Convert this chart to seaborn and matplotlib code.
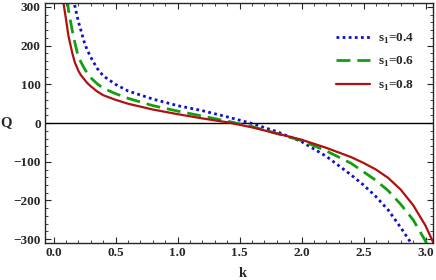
import numpy as np
import pandas as pd
import matplotlib
matplotlib.use("Agg")
import matplotlib.pyplot as plt
from matplotlib.ticker import MultipleLocator
import seaborn as sns

# values
k_red = [0.06, 0.08, 0.10, 0.12, 0.15, 0.17, 0.20, 0.22, 0.25, 0.27, 0.30, 0.35, 0.40, 0.50, 0.60,
         0.80, 1.00, 1.20, 1.40, 1.60, 1.80, 2.00, 2.20, 2.40, 2.50, 2.60, 2.70, 2.80, 2.90,
         3.00, 3.10]
q_red = [400, 310, 268, 225, 182, 158, 135, 124, 112, 104, 95, 82, 72, 60, 50,
         35, 23, 12, 2, -11, -27, -43, -64, -88, -103, -120, -142, -172, -212,
         -265, -335]

k_green = [0.08, 0.10, 0.12, 0.15, 0.17, 0.20, 0.22, 0.25, 0.27, 0.30, 0.35, 0.40, 0.50, 0.60,
           0.80, 1.00, 1.20, 1.40, 1.60, 1.80, 2.00, 2.20, 2.40, 2.50, 2.60, 2.70, 2.80,
           2.90, 3.00, 3.10]
q_green = [440, 360, 292, 240, 210, 170, 158, 140, 130, 117, 102, 90, 76, 64,
           45, 31, 18, 5, -9, -27, -45, -72, -104, -126, -148, -175, -210,
           -250, -305, -380]

k_blue = [0.10, 0.12, 0.15, 0.17, 0.20, 0.22, 0.25, 0.27, 0.30, 0.35, 0.40, 0.50, 0.60, 0.80,
          1.00, 1.20, 1.40, 1.60, 1.80, 2.00, 2.20, 2.40, 2.50, 2.60, 2.70, 2.80, 2.90, 3.00]
q_blue = [500, 420, 340, 305, 262, 240, 206, 190, 170, 142, 122, 100, 83, 62,
          45, 32, 16, -1, -22, -48, -86, -134, -160, -190, -225, -270, -318, -390]

labels = [r"s$_{\mathbf{1}}$=0.4", r"s$_{\mathbf{1}}$=0.6", r"s$_{\mathbf{1}}$=0.8"]

sns.set_style("ticks")
plt.rcParams["font.family"] = ["Liberation Serif", "DejaVu Serif"]
plt.rcParams["font.weight"] = "bold"
plt.rcParams["mathtext.fontset"] = "custom"
plt.rcParams["mathtext.bf"] = "Liberation Serif:bold"
plt.rcParams["mathtext.rm"] = "Liberation Serif:bold"

fig = plt.figure(figsize=(4.36, 2.80), dpi=100)
ax = fig.add_axes([0.103, 0.132, 0.89, 0.857])

ax.axhline(0, color="black", lw=1.0, zorder=1)

sns.lineplot(x=k_blue, y=q_blue, ax=ax, color="#1010c8", lw=2.0, label=labels[0],
             sort=False, linestyle=(0, (1, 1.2)))
sns.lineplot(x=k_green, y=q_green, ax=ax, color="#10a010", lw=2.0, label=labels[1],
             sort=False, linestyle=(0, (5, 2.5)))
sns.lineplot(x=k_red, y=q_red, ax=ax, color="#b01010", lw=1.6, label=labels[2],
             sort=False)

ax.set_xlim(-0.07, 3.06)
ax.set_ylim(-310, 310)
ax.xaxis.set_major_locator(MultipleLocator(0.5))
ax.xaxis.set_minor_locator(MultipleLocator(0.1))
ax.yaxis.set_major_locator(MultipleLocator(100))
ax.yaxis.set_minor_locator(MultipleLocator(20))
ax.xaxis.set_major_formatter(plt.FormatStrFormatter("%.1f"))
ax.tick_params(which="both", direction="in", top=True, right=True, labelsize=9.5)
ax.tick_params(which="major", length=4, width=0.8, pad=3)
ax.tick_params(which="minor", length=2, width=0.6)
for s in ax.spines.values():
    s.set_linewidth(1.0)

ax.set_xlabel("k", fontsize=10.5, fontweight="bold", va="center")
ax.xaxis.set_label_coords(0.51, -0.125)
ax.set_ylabel("Q", fontsize=10.5, fontweight="bold", rotation=0, va="center", ha="center")
ax.yaxis.set_label_coords(-0.1, 0.5)

ax.legend(loc="upper left", bbox_to_anchor=(0.72, 0.93), frameon=False, fontsize=9.5,
          handlelength=2.6, labelspacing=0.7, handletextpad=0.6)

fig.savefig("out.png", dpi=100)
